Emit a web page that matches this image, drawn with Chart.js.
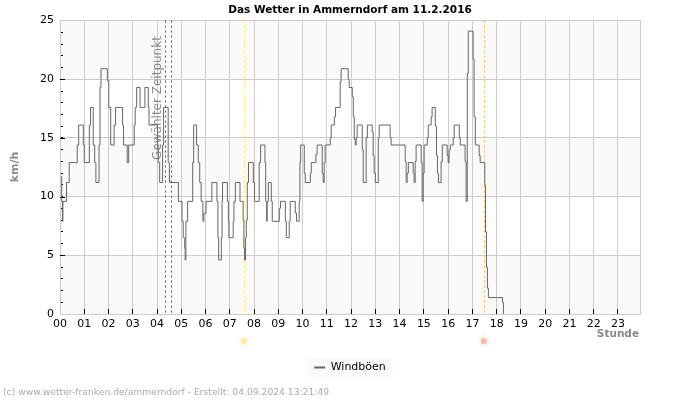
<!DOCTYPE html>
<html>
<head>
<meta charset="utf-8">
<title>Das Wetter in Ammerndorf</title>
<script src="https://cdn.jsdelivr.net/npm/chart.js@4"></script>
<style>
  html, body { margin: 0; padding: 0; background: #fff; }
</style>
</head>
<body>
<canvas id="wetter" width="700" height="400" style="display:block"></canvas>
<script>
// hours at which the gust value changes, and the value it changes to
const hours = [
  0.03,0.07,0.10,0.12,0.27,0.38,0.71,0.77,0.96,1.00,1.21,1.26,1.37,1.43,1.48,1.61,1.65,1.69,1.95,2.01,
  2.09,2.23,2.29,2.58,2.62,2.77,2.83,3.06,3.10,3.16,3.30,3.50,3.64,3.67,4.02,4.05,4.11,4.23,4.27,4.46,
  4.51,4.88,5.03,5.08,5.14,5.16,5.19,5.26,5.47,5.51,5.63,5.70,5.76,5.82,5.89,5.93,6.02,6.26,6.47,6.51,
  6.54,6.65,6.68,6.70,6.90,6.94,6.96,7.14,7.17,7.23,7.42,7.55,7.58,7.61,7.65,7.68,7.72,7.77,7.97,8.02,
  8.21,8.27,8.45,8.48,8.52,8.54,8.59,8.71,8.75,9.04,9.09,9.29,9.33,9.45,9.49,9.70,9.75,9.86,9.89,9.92,
  10.07,10.11,10.32,10.36,10.55,10.60,10.81,10.85,10.89,10.93,11.14,11.18,11.31,11.36,11.55,11.59,11.88,11.92,12.05,12.09,
  12.13,12.17,12.21,12.25,12.46,12.50,12.62,12.67,12.87,12.91,12.95,13.00,13.12,13.16,13.61,13.65,14.23,14.27,14.31,14.36,
  14.56,14.60,14.64,14.68,14.89,14.93,14.97,15.01,15.14,15.18,15.30,15.34,15.47,15.52,15.56,15.60,15.71,15.76,15.96,16.00,
  16.04,16.09,16.21,16.25,16.46,16.50,16.70,16.74,16.79,16.83,17.03,17.07,17.12,17.28,17.32,17.51,17.54,17.58,17.62,17.66,
  18.24,18.28
];
const gusts = [
  11.7,9.6,7.9,9.6,11.2,12.9,14.4,16.1,14.4,12.9,16.1,17.6,14.4,12.9,11.2,14.4,19.3,20.9,19.9,17.6,
  14.4,16.1,17.6,16.1,14.4,12.9,14.4,16.1,17.6,19.3,17.6,19.3,17.6,16.1,14.4,12.9,11.2,14.4,17.6,12.9,
  11.2,9.6,7.9,6.5,5.6,4.6,7.9,9.6,12.9,16.1,14.4,12.9,11.2,9.6,7.9,8.6,9.6,11.2,9.6,6.5,
  4.6,6.5,9.6,11.2,9.6,7.9,6.5,7.9,9.6,11.2,9.6,8.0,5.6,4.6,6.5,8.0,11.2,12.9,11.2,9.6,
  12.9,14.4,12.9,9.6,7.9,9.6,11.2,9.6,7.9,9.0,9.6,7.9,6.5,7.9,9.6,8.6,7.9,9.6,12.9,14.4,
  12.0,11.2,12.0,12.9,13.6,14.4,12.0,11.2,12.9,14.4,15.0,16.1,16.8,17.6,19.8,20.9,20.0,19.3,18.5,16.8,
  14.9,14.4,15.0,16.1,14.0,11.2,15.0,16.1,15.5,13.5,12.0,11.2,15.0,16.1,15.0,14.4,13.0,11.2,12.0,12.9,
  12.0,11.2,13.0,14.4,12.9,9.6,12.0,14.4,15.0,16.1,16.8,17.6,16.0,13.5,12.0,11.2,13.0,14.4,13.5,12.9,
  14.0,14.4,15.0,16.1,15.0,14.4,13.0,9.6,20.5,24.1,21.7,16.8,14.4,13.5,12.9,11.0,7.0,4.0,2.2,1.4,
  1.0,0.0
];

const hourLabels = ['00','01','02','03','04','05','06','07','08','09','10','11','12','13','14','15','16','17','18','19','20','21','22','23'];
const kmhLabels = [0,5,10,15,20,25];
const shadedBands = [[0,5],[10,15],[20,25]];
// dotted markers: selected time span, sunrise, sunset
const markerHours = [4.33,4.57,7.58,17.47];
const markerColors = ['#555','#555','#ffee44','#ffb040'];
const sunHours = [7.58,17.47];
const sunColors = ['#ffeaa0','#ffb8a0'];

const backdrop = {
  id: 'backdrop',
  beforeDraw(chart) {
    const { ctx, chartArea: a, scales: { y }, legend } = chart;
    ctx.save();
    ctx.fillStyle = '#fafafa';
    shadedBands.forEach(b => {
      const top = y.getPixelForValue(b[1]), bot = y.getPixelForValue(b[0]);
      ctx.fillRect(a.left, top, a.right - a.left, bot - top);
    });
    const hit = legend.legendHitBoxes[0];
    ctx.fillRect(hit.left - 7, 358, hit.width + 14, 19);
    ctx.restore();
  },
  beforeDatasetsDraw(chart) {
    const { ctx, chartArea: a, scales: { x, y } } = chart;
    ctx.save();
    // major y ticks are longer than the minor ones
    ctx.strokeStyle = '#000';
    ctx.lineWidth = 1;
    kmhLabels.slice(1, -1).forEach(v => {
      const py = Math.round(y.getPixelForValue(v)) + 0.5;
      ctx.beginPath(); ctx.moveTo(a.left, py); ctx.lineTo(a.left + 5, py); ctx.stroke();
    });
    markerHours.forEach((h, i) => {
      ctx.strokeStyle = markerColors[i];
      ctx.setLineDash([2, 3]);
      const px = Math.round(x.getPixelForValue(h)) + 0.5;
      ctx.beginPath(); ctx.moveTo(px, a.top); ctx.lineTo(px, a.bottom); ctx.stroke();
    });
    ctx.restore();
  },
  afterDraw(chart) {
    const { ctx, scales: { x } } = chart;
    ctx.save();
    // rotated marker caption
    ctx.translate(157.5, 98);
    ctx.rotate(-Math.PI / 2);
    ctx.font = '12px "DejaVu Sans"';
    ctx.fillStyle = 'rgba(110,110,110,0.8)';
    ctx.textAlign = 'center';
    ctx.textBaseline = 'middle';
    ctx.fillText('Gewählter Zeitpunkt', 0, 0);
    ctx.restore();

    ctx.save();
    ctx.translate(15, 167);
    ctx.rotate(-Math.PI / 2);
    ctx.font = 'bold 11px "DejaVu Sans"';
    ctx.fillStyle = '#888';
    ctx.textAlign = 'center';
    ctx.textBaseline = 'middle';
    ctx.fillText('km/h', 0, 0);
    ctx.restore();

    ctx.save();
    ctx.font = 'bold 10.5px "DejaVu Sans"';
    ctx.fillStyle = '#888';
    ctx.textAlign = 'right';
    ctx.textBaseline = 'middle';
    ctx.fillText('Stunde', 639, 334);
    ctx.font = '9.2px "DejaVu Sans"';
    ctx.fillStyle = '#aaa';
    ctx.textAlign = 'left';
    ctx.fillText('(c) www.wetter-franken.de/ammerndorf - Erstellt: 04.09.2024 13:21:49', 3, 393);
    ctx.restore();

    // sun symbols for sunrise and sunset
    sunHours.forEach((h, i) => {
      const cx = x.getPixelForValue(h), cy = 341;
      ctx.save();
      ctx.strokeStyle = sunColors[i];
      ctx.fillStyle = sunColors[i];
      ctx.globalAlpha = 0.6;
      for (let k = 0; k < 8; k++) {
        const t = k * Math.PI / 4;
        ctx.beginPath();
        ctx.moveTo(cx + Math.cos(t) * 3, cy + Math.sin(t) * 3);
        ctx.lineTo(cx + Math.cos(t) * 6, cy + Math.sin(t) * 6);
        ctx.stroke();
      }
      ctx.globalAlpha = 1;
      ctx.beginPath(); ctx.arc(cx, cy, 3, 0, Math.PI * 2); ctx.fill();
      ctx.restore();
    });
  }
};

new Chart(document.getElementById('wetter').getContext('2d'), {
  type: 'line',
  data: {
    datasets: [{
      label: 'Windböen',
      data: hours.map((h, i) => ({ x: h, y: gusts[i] })),
      borderColor: '#666',
      backgroundColor: '#666',
      borderWidth: 1,
      pointRadius: 0,
      stepped: true,
      fill: false
    }]
  },
  options: {
    responsive: false,
    animation: false,
    layout: { padding: { top: 0, left: 0, right: 0, bottom: 17 } },
    plugins: {
      tooltip: { enabled: false },
      title: {
        display: true,
        text: 'Das Wetter in Ammerndorf am 11.2.2016',
        color: '#000',
        font: { family: 'DejaVu Sans', size: 10.5, weight: 'bold' },
        padding: { top: 4, bottom: 4 }
      },
      legend: {
        position: 'bottom',
        labels: {
          color: '#000',
          font: { family: 'DejaVu Sans', size: 11 },
          usePointStyle: true,
          pointStyle: 'line',
          pointStyleWidth: 11,
          padding: 3,
          generateLabels: c => Chart.defaults.plugins.legend.labels.generateLabels(c).map(l => ({ ...l, lineWidth: 2 }))
        }
      }
    },
    scales: {
      x: {
        type: 'linear',
        min: 0,
        max: 23.93,
        afterBuildTicks: s => { s.ticks = hourLabels.map((l, i) => ({ value: i })); },
        afterFit: s => { s.height = 45; },
        ticks: {
          autoSkip: false,
          maxRotation: 0,
          color: '#000',
          font: { family: 'DejaVu Sans', size: 11 },
          padding: 9,
          callback: v => hourLabels[v]
        },
        grid: {
          color: '#ccc',
          tickColor: c => c.tick.value === 0 ? 'rgba(0,0,0,0)' : '#000',
          tickLength: -5
        },
        border: { color: '#ccc' }
      },
      y: {
        min: 0,
        max: 25,
        afterFit: s => { s.width = 60; },
        ticks: {
          stepSize: 1,
          autoSkip: false,
          color: '#000',
          font: { family: 'DejaVu Sans', size: 11 },
          padding: 9,
          callback: v => kmhLabels.includes(v) ? String(v) : ''
        },
        grid: {
          color: c => c.tick.value % 5 === 0 ? '#ccc' : 'rgba(0,0,0,0)',
          tickColor: c => (c.tick.value === 0 || c.tick.value === 25) ? 'rgba(0,0,0,0)' : '#000',
          tickLength: -3
        },
        border: { color: '#ccc' }
      },
      // empty right axis: keeps the right margin without narrowing title and legend
      yr: {
        position: 'right',
        min: 0,
        max: 25,
        afterFit: s => { s.width = 59.5; },
        ticks: { display: false },
        grid: { drawOnChartArea: false, drawTicks: false },
        border: { color: '#ccc' }
      }
    }
  },
  plugins: [backdrop]
});
</script>
</body>
</html>
